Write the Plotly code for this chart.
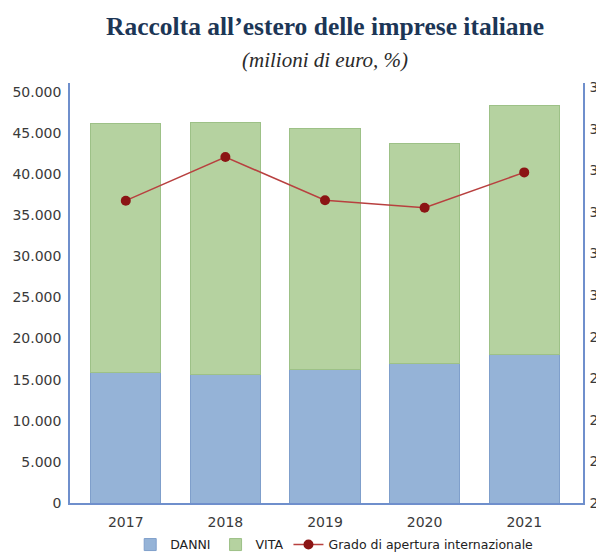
import plotly.graph_objects as go

years = ["2017", "2018", "2019", "2020", "2021"]
danni = [15860, 15620, 16230, 17000, 18050]
vita = [30250, 30610, 29240, 26680, 30300]
grado = [32.27, 33.32, 32.28, 32.10, 32.95]

left_ticks = [0, 5000, 10000, 15000, 20000, 25000, 30000, 35000, 40000, 45000, 50000]
left_labels = ["0", "5.000", "10.000", "15.000", "20.000", "25.000", "30.000",
               "35.000", "40.000", "45.000", "50.000"]
right_ticks = [25, 26, 27, 28, 29, 30, 31, 32, 33, 34, 35]

axis_blue = "#6f8fcc"
tick_font = dict(family="DejaVu Sans", size=14, color="#3a3a3a")

fig = go.Figure()
fig.add_trace(go.Bar(
    x=years, y=danni, name="DANNI",
    marker=dict(color="#95b3d7", line=dict(color="#7f9fcb", width=1)),
))
fig.add_trace(go.Bar(
    x=years, y=vita, name="VITA",
    marker=dict(color="#b5d2a0", line=dict(color="#9dc187", width=1)),
))
fig.add_trace(go.Scatter(
    x=years, y=grado, name="Grado di apertura internazionale", yaxis="y2",
    mode="lines+markers",
    line=dict(color="#b8403f", width=1.5),
    marker=dict(color="#8b1414", size=10),
))

fig.update_layout(
    template="none",
    width=596, height=544,
    margin=dict(l=62, r=21, t=75, b=49, autoexpand=False),
    paper_bgcolor="white", plot_bgcolor="white",
    barmode="stack", bargap=0.295,
    showlegend=True,
    legend=dict(orientation="h", x=0.515, xanchor="center",
                yref="container", y=0.013, yanchor="middle",
                font=dict(family="DejaVu Sans", size=12.5, color="#222222"),
                tracegroupgap=0, traceorder="normal", bgcolor="rgba(0,0,0,0)"),
    xaxis=dict(
        type="category", range=[-0.56, 4.59], automargin=False,
        showline=True, linecolor=axis_blue, linewidth=1.5,
        ticks="", showgrid=False, tickfont=tick_font, ticklabelstandoff=5,
    ),
    yaxis=dict(
        range=[0, 51060], tickvals=left_ticks, ticktext=left_labels, automargin=False,
        showline=True, linecolor=axis_blue, linewidth=1.5,
        ticks="", showgrid=False, zeroline=False, tickfont=tick_font,
        ticklabelstandoff=4,
    ),
    yaxis2=dict(
        range=[25, 35.1], tickvals=right_ticks, overlaying="y", side="right",
        showline=True, linecolor=axis_blue, linewidth=1.5, automargin=False,
        ticks="", showgrid=False, zeroline=False, tickfont=tick_font,
        ticklabelstandoff=2,
    ),
    annotations=[
        dict(text="<b>Raccolta all’estero delle imprese italiane</b>",
             xref="paper", yref="paper", x=0.497, y=1.0, yshift=40,
             xanchor="center", yanchor="bottom", showarrow=False,
             font=dict(family="Liberation Serif", size=25.5, color="#1c3656")),
        dict(text="<i>(milioni di euro, %)</i>",
             xref="paper", yref="paper", x=0.497, y=1.0, yshift=9,
             xanchor="center", yanchor="bottom", showarrow=False,
             font=dict(family="Liberation Serif", size=21, color="#2a2a2a")),
    ],
)

fig.write_html("out.html")
